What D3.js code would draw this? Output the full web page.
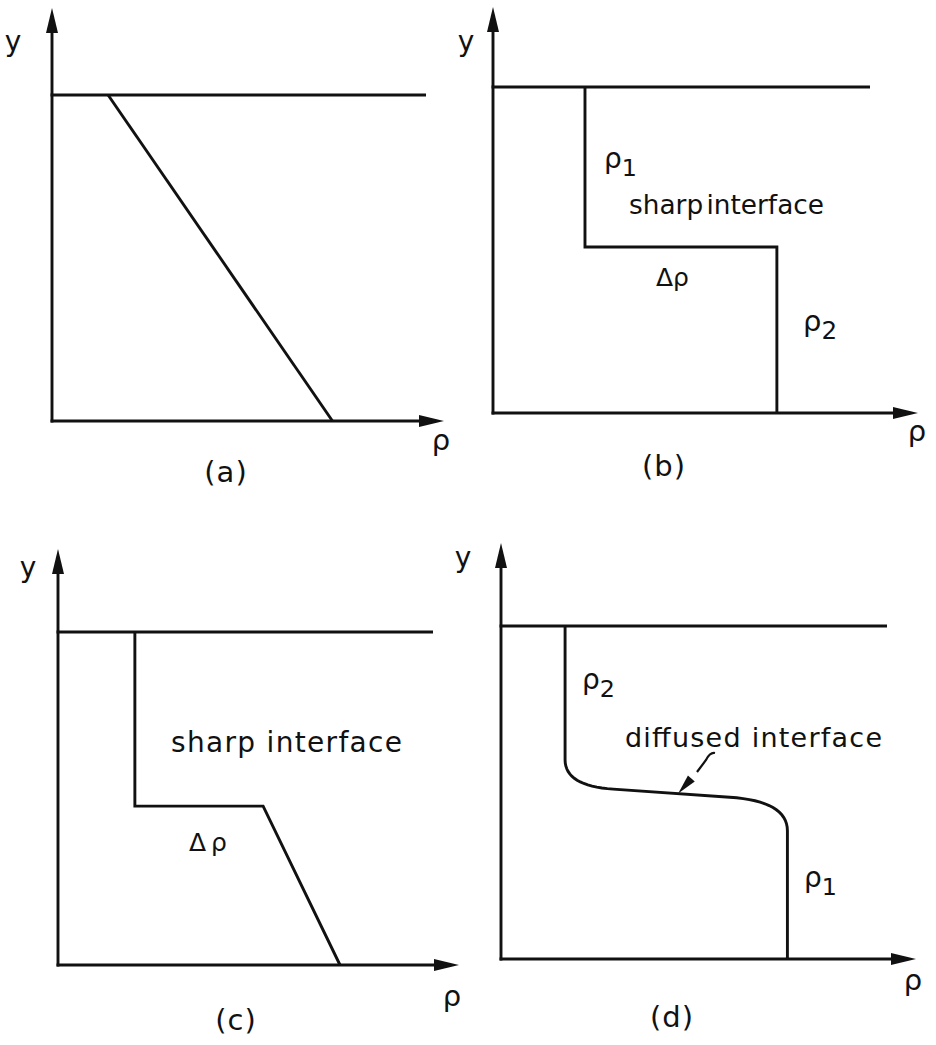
<!DOCTYPE html>
<html>
<head>
<meta charset="utf-8">
<script src="https://cdn.jsdelivr.net/npm/d3@7"></script>
<style>
  html, body { margin: 0; padding: 0; background: #fff; }
  svg { display: block; }
  text { font-family: "DejaVu Sans", sans-serif; fill: #111; }
</style>
</head>
<body>
<svg id="chart" width="936" height="1045"></svg>
<script>
// Density profiles rho(y), normalised: rho in [0,1] along the surface line, y in [0,1] from bed to surface
const panelIds = ["a", "b", "c", "d"];
const profileA = [[0.15, 1], [0.75, 0]];                                   // linear stratification
const profileB = [[0.244, 1], [0.244, 0.509], [0.753, 0.509], [0.753, 0]]; // two layers, sharp step
const profileC = [[0.205, 1], [0.205, 0.477], [0.547, 0.477], [0.752, 0]]; // sharp step over a linear layer
// two layers joined by a diffused interface: corner points of the profile
const profileD = [[0.166, 1], [0.166, 0.52], [0.742, 0.474], [0.742, 0]];
// how far each rounded bend reaches along the incoming / outgoing leg
const bendD = [null, [0.078, 0.125], [0.15, 0.089], null];
const pointerAt = [0.459, 0.497]; // where the "diffused interface" pointer lands in (d)

// Plot frames: axis origin, end of the free-surface line, surface height, arrow tips
const frames = [
  { ox: 52,  oy: 421, right: 426, top: 95,  tipX: 444, tipY: 8 },
  { ox: 493, oy: 413, right: 870, top: 87,  tipX: 918, tipY: 7 },
  { ox: 58,  oy: 965, right: 433, top: 632, tipX: 459, tipY: 549 },
  { ox: 501, oy: 959, right: 887, top: 626, tipX: 916, tipY: 543 }
];

// Panel captions and axis labels
const captions = ["(a)", "(b)", "(c)", "(d)"];
const captionPos = [[226, 482], [664, 476], [236, 1030], [672, 1027]];
const yLabelPos = [[13, 51], [466, 51], [28, 577], [463, 567]];
const rhoLabelPos = [[441, 450], [917, 441], [452, 1006], [913, 990]];

// Replace each corner by a quadratic bend (control point = corner), sampled in data units
function roundCorners(pts, bends, n = 16) {
  const out = [];
  pts.forEach((p, k) => {
    if (!bends[k]) { out.push(p); return; }
    const prev = pts[k - 1], next = pts[k + 1];
    const unit = (a, b) => { const dx = b[0] - a[0], dy = b[1] - a[1], l = Math.hypot(dx, dy); return [dx / l, dy / l]; };
    const u0 = unit(p, prev), u1 = unit(p, next);
    const s = [p[0] + u0[0] * bends[k][0], p[1] + u0[1] * bends[k][0]];
    const e = [p[0] + u1[0] * bends[k][1], p[1] + u1[1] * bends[k][1]];
    for (let j = 0; j <= n; j++) {
      const t = j / n, m = 1 - t;
      out.push([m * m * s[0] + 2 * m * t * p[0] + t * t * e[0],
                m * m * s[1] + 2 * m * t * p[1] + t * t * e[1]]);
    }
  });
  return out;
}
const profiles = [profileA, profileB, profileC, roundCorners(profileD, bendD)];

const svg = d3.select("#chart");
const lw = 2.9;

function arrowHead(g, tip, dir) {
  // filled triangle, dir: "up" or "right"
  const L = 25, W = 6;
  const pts = dir === "up"
    ? [[tip[0], tip[1]], [tip[0] - W, tip[1] + L], [tip[0] + W, tip[1] + L]]
    : [[tip[0], tip[1]], [tip[0] - L, tip[1] - W], [tip[0] - L, tip[1] + W]];
  g.append("path").attr("d", "M" + pts.map(p => p.join(",")).join("L") + "Z")
    .attr("fill", "#111");
}

const scales = frames.map((f, i) => {
  const x = d3.scaleLinear().domain([0, 1]).range([f.ox, f.right]);
  const y = d3.scaleLinear().domain([0, 1]).range([f.oy, f.top]);
  const g = svg.append("g").attr("class", "panel-" + panelIds[i]);

  // y axis
  g.append("line").attr("x1", f.ox).attr("y1", f.oy + lw / 2).attr("x2", f.ox).attr("y2", f.tipY + 10)
    .attr("stroke", "#111").attr("stroke-width", lw);
  arrowHead(g, [f.ox, f.tipY], "up");
  // rho axis
  g.append("line").attr("x1", f.ox - lw / 2).attr("y1", f.oy).attr("x2", f.tipX - 10).attr("y2", f.oy)
    .attr("stroke", "#111").attr("stroke-width", lw);
  arrowHead(g, [f.tipX, f.oy], "right");
  // free surface
  g.append("line").attr("x1", x(0) - lw / 2).attr("y1", y(1)).attr("x2", x(1)).attr("y2", y(1))
    .attr("stroke", "#111").attr("stroke-width", lw);

  // profile
  const line = d3.line().x(d => x(d[0])).y(d => y(d[1]));
  g.append("path").attr("d", line(profiles[i]))
    .attr("fill", "none").attr("stroke", "#111").attr("stroke-width", lw)
    .attr("stroke-linejoin", "miter");

  // labels
  g.append("text").attr("x", yLabelPos[i][0]).attr("y", yLabelPos[i][1])
    .attr("text-anchor", "middle").attr("font-size", 28).text("y");
  g.append("text").attr("x", rhoLabelPos[i][0]).attr("y", rhoLabelPos[i][1])
    .attr("text-anchor", "middle").attr("font-size", 29).text("ρ");
  g.append("text").attr("x", captionPos[i][0]).attr("y", captionPos[i][1])
    .attr("text-anchor", "middle").attr("font-size", 29).attr("letter-spacing", 1).text(captions[i]);
  return { x, y, g };
});

function rhoSub(g, px, py, sub, size) {
  const t = g.append("text").attr("x", px).attr("y", py).attr("font-size", size);
  t.append("tspan").text("ρ");
  t.append("tspan").attr("dy", size * 0.28).attr("font-size", size * 0.85).text(sub);
}

// (b) annotations
{
  const g = scales[1].g;
  rhoSub(g, 604, 168, "1", 28);
  g.append("text").attr("x", 629).attr("y", 214).attr("font-size", 26).attr("word-spacing", -5)
    .attr("textLength", 195).attr("lengthAdjust", "spacingAndGlyphs").text("sharp interface");
  g.append("text").attr("x", 656).attr("y", 286).attr("font-size", 25).text("Δρ");
  rhoSub(g, 803, 331, "2", 29);
}

// (c) annotations
{
  const g = scales[2].g;
  g.append("text").attr("x", 171).attr("y", 752).attr("font-size", 28)
    .attr("textLength", 231).attr("lengthAdjust", "spacing").text("sharp interface");
  g.append("text").attr("x", 189).attr("y", 851).attr("font-size", 25)
    .attr("letter-spacing", 5).text("Δρ");
}

// (d) annotations
{
  const s = scales[3], g = s.g;
  rhoSub(g, 582, 689, "2", 28);
  rhoSub(g, 804, 887, "1", 28);
  g.append("text").attr("x", 625).attr("y", 747).attr("font-size", 27)
    .attr("textLength", 257).attr("lengthAdjust", "spacing").text("diffused interface");
  // pointer to the interface
  const tip = [s.x(pointerAt[0]), s.y(pointerAt[1])];
  g.append("path").attr("d", "M715,753 Q710,752 706,760 L697,772")
    .attr("fill", "none").attr("stroke", "#111").attr("stroke-width", 2.2);
  const a = Math.atan2(tip[1] - 772, tip[0] - 697);
  const L = 20, W = 4.5;
  const bx = tip[0] - L * Math.cos(a), by = tip[1] - L * Math.sin(a);
  g.append("path").attr("d",
    `M${tip[0]},${tip[1]}L${bx - W * Math.sin(a)},${by + W * Math.cos(a)}L${bx + W * Math.sin(a)},${by - W * Math.cos(a)}Z`)
    .attr("fill", "#111");
}
</script>
</body>
</html>
